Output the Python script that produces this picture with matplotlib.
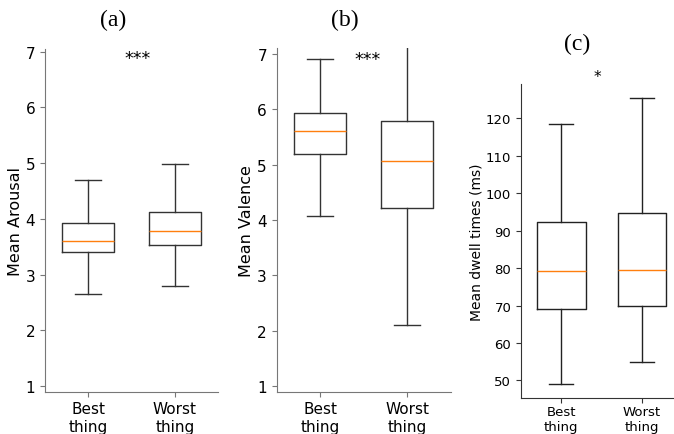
import matplotlib
matplotlib.use("Agg")
import matplotlib.pyplot as plt

# box statistics: [Best thing, Worst thing]
groups = ["Best\nthing", "Worst\nthing"]

arousal_lo = [2.66, 2.80]
arousal_q1 = [3.41, 3.54]
arousal_med = [3.61, 3.79]
arousal_q3 = [3.93, 4.12]
arousal_hi = [4.69, 4.99]

valence_lo = [4.07, 2.11]
valence_q1 = [5.19, 4.21]
valence_med = [5.60, 5.06]
valence_q3 = [5.94, 5.79]
valence_hi = [6.91, 7.40]

dwell_lo = [49.1, 54.8]
dwell_q1 = [69.2, 69.9]
dwell_med = [79.3, 79.4]
dwell_q3 = [92.3, 94.7]
dwell_hi = [118.5, 125.4]


def make_stats(lo, q1, med, q3, hi):
    stats = []
    for i in range(len(groups)):
        stats.append({"whislo": lo[i], "q1": q1[i], "med": med[i],
                      "q3": q3[i], "whishi": hi[i], "fliers": [],
                      "label": groups[i]})
    return stats


def draw_box(ax, stats, line_col, spine_col, tick_size, xlab_size, label_size, ylabel, xpad):
    ax.bxp(stats, positions=[1, 2], widths=0.6, showfliers=False,
           boxprops=dict(color=line_col, linewidth=1.0),
           whiskerprops=dict(color=line_col, linewidth=1.0),
           capprops=dict(color=line_col, linewidth=1.0),
           medianprops=dict(color="#ff7f0e", linewidth=1.0))
    ax.set_xlim(0.5, 2.5)
    ax.spines["top"].set_visible(False)
    ax.spines["right"].set_visible(False)
    ax.spines["left"].set_color(spine_col)
    ax.spines["bottom"].set_color(spine_col)
    ax.tick_params(axis="y", labelsize=tick_size, color=spine_col)
    ax.tick_params(axis="x", labelsize=xlab_size, color=spine_col, pad=xpad)
    ax.set_ylabel(ylabel, fontsize=label_size, labelpad=2)


fig = plt.figure(figsize=(6.74, 4.35), dpi=100)

# (a) arousal
ax1 = fig.add_axes([0.0668, 0.0972, 0.2567, 0.788])
draw_box(ax1, make_stats(arousal_lo, arousal_q1, arousal_med, arousal_q3, arousal_hi),
         "#333333", "#777777", 11, 11, 11.5, "Mean Arousal", 3.5)
ax1.set_ylim(0.9, 7.05)
ax1.set_yticks([1, 2, 3, 4, 5, 6, 7])
ax1.text(1.57, 6.88, "***", ha="center", va="center", fontsize=12.5)

# (b) valence
ax2 = fig.add_axes([0.4105, 0.0972, 0.258, 0.7895])
draw_box(ax2, make_stats(valence_lo, valence_q1, valence_med, valence_q3, valence_hi),
         "#333333", "#777777", 11, 11, 11.5, "Mean Valence", 3.5)
ax2.set_ylim(0.9, 7.1)
ax2.set_yticks([1, 2, 3, 4, 5, 6, 7])
ax2.text(1.55, 6.9, "***", ha="center", va="center", fontsize=12.5)

# (c) dwell times, smaller panel, cut at the right edge
ax3 = fig.add_axes([0.773, 0.0828, 0.2396, 0.7218])
draw_box(ax3, make_stats(dwell_lo, dwell_q1, dwell_med, dwell_q3, dwell_hi),
         "#222222", "#333333", 9.5, 9.5, 10, "Mean dwell times (ms)", 1.5)
ax3.set_ylim(45.3, 129.2)
ax3.set_yticks([50, 60, 70, 80, 90, 100, 110, 120])
ax3.text(1.45, 131.2, "*", ha="center", va="center", fontsize=11, clip_on=False)

# panel letters
fig.text(113 / 674, 1 - 20 / 435, "(a)", ha="center", va="center",
         fontsize=17, family="Liberation Serif")
fig.text(345 / 674, 1 - 20 / 435, "(b)", ha="center", va="center",
         fontsize=17, family="Liberation Serif")
fig.text(577 / 674, 1 - 44 / 435, "(c)", ha="center", va="center",
         fontsize=17, family="Liberation Serif")

fig.savefig("out.png", dpi=100)
